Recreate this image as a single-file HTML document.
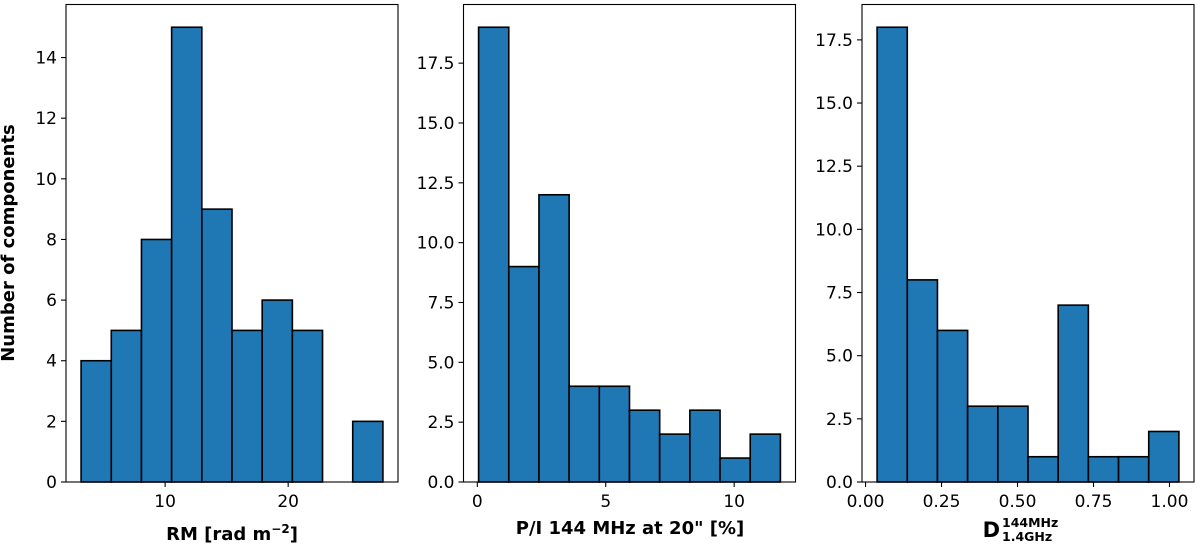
<!DOCTYPE html>
<html><head><meta charset="utf-8"><style>
body{margin:0;background:#fff}
svg text{font-family:"DejaVu Sans","Liberation Sans",sans-serif;fill:#000}
</style></head><body>
<svg id="fig" width="1200" height="548" xmlns="http://www.w3.org/2000/svg"></svg>
<script>
const rmCounts=[4,5,8,15,9,5,6,5,0,2];
const rmRange=[3.17,27.7];
const rmTicks=[10,20];
const rmTickLabels=["10","20"];
const rmYTicks=[0,2,4,6,8,10,12,14];
const rmYTickLabels=["0","2","4","6","8","10","12","14"];

const piCounts=[19,9,12,4,4,3,2,3,1,2];
const piRange=[0.05,11.8];
const piTicks=[0,5,10];
const piTickLabels=["0","5","10"];
const piYTicks=[0,2.5,5,7.5,10,12.5,15,17.5];
const piYTickLabels=["0.0","2.5","5.0","7.5","10.0","12.5","15.0","17.5"];

const dCounts=[18,8,6,3,3,1,7,1,1,2];
const dRange=[0.038,1.031];
const dTicks=[0,0.25,0.5,0.75,1.0];
const dTickLabels=["0.00","0.25","0.50","0.75","1.00"];
const dYTicks=[0,2.5,5,7.5,10,12.5,15,17.5];
const dYTickLabels=["0.0","2.5","5.0","7.5","10.0","12.5","15.0","17.5"];

const NS="http://www.w3.org/2000/svg";
const svg=document.getElementById('fig');
function mk(tag,attrs,parent){const e=document.createElementNS(NS,tag);for(const k in attrs)e.setAttribute(k,attrs[k]);(parent||svg).appendChild(e);return e;}

function panel(id,x0,counts,range,ticks,tlabels,yticks,ylabels){
  const W=332,top=4.5,bot=482;
  const g=mk('g',{});
  
  
  const R=range[1]-range[0];
  const xmin=range[0]-0.05*R,xmax=range[1]+0.05*R;
  const ymax=Math.max(...counts)*1.05;
  const xs=v=>x0+(v-xmin)/(xmax-xmin)*W;
  const ys=v=>bot-v/ymax*(bot-top);
  const bw=R/counts.length;
  counts.forEach((c,i)=>{
    if(c<=0)return;
    const a=xs(range[0]+i*bw),b=xs(range[0]+(i+1)*bw);
    const r=mk('rect',{x:a,y:ys(c),width:b-a,height:bot-ys(c),fill:'#1f77b4',stroke:'#000','stroke-width':1.6},g);
    
    
  });
  const fr=mk('rect',{x:x0,y:top,width:W,height:bot-top,fill:'none',stroke:'#000','stroke-width':1.1},g);
  
  
  ticks.forEach((t,i)=>{
    const x=xs(t);
    mk('line',{x1:x,x2:x,y1:bot,y2:bot+5,stroke:'#000','stroke-width':1.1},g);
    const tx=mk('text',{x:x,y:bot+25,'text-anchor':'middle','font-size':17},g);
    tx.textContent=tlabels[i];
    
    
  });
  yticks.forEach((t,i)=>{
    const y=ys(t);
    mk('line',{x1:x0-5,x2:x0,y1:y,y2:y,stroke:'#000','stroke-width':1.1},g);
    const tx=mk('text',{x:x0-9,y:y+6,'text-anchor':'end','font-size':17},g);
    tx.textContent=ylabels[i];
    
    
  });
  return g;
}
panel('rm',66,rmCounts,rmRange,rmTicks,rmTickLabels,rmYTicks,rmYTickLabels);
panel('pi',463.5,piCounts,piRange,piTicks,piTickLabels,piYTicks,piYTickLabels);
panel('d',862,dCounts,dRange,dTicks,dTickLabels,dYTicks,dYTickLabels);
</script>
<svg width="1200" height="548" style="position:absolute;left:0;top:0" xmlns="http://www.w3.org/2000/svg">
<text transform="translate(14,243) rotate(-90)" text-anchor="middle" font-size="18" font-weight="bold" font-family="DejaVu Sans, sans-serif">Number of components</text>
<text x="232" y="540" text-anchor="middle" font-size="18" font-weight="bold" font-family="DejaVu Sans, sans-serif">RM [rad m<tspan dy="-7" font-size="12">−2</tspan><tspan dy="7">]</tspan></text>
<text x="630" y="534" text-anchor="middle" font-size="18" font-weight="bold" font-family="DejaVu Sans, sans-serif">P/I 144 MHz at 20" [%]</text>
<text x="1000" y="537" text-anchor="end" font-size="21" font-weight="bold" font-family="DejaVu Sans, sans-serif">D</text>
<text x="1002" y="527" font-size="12.5" font-weight="bold" font-family="DejaVu Sans, sans-serif">144MHz</text>
<text x="1002" y="541" font-size="12.5" font-weight="bold" font-family="DejaVu Sans, sans-serif">1.4GHz</text>
</svg>
</body></html>
